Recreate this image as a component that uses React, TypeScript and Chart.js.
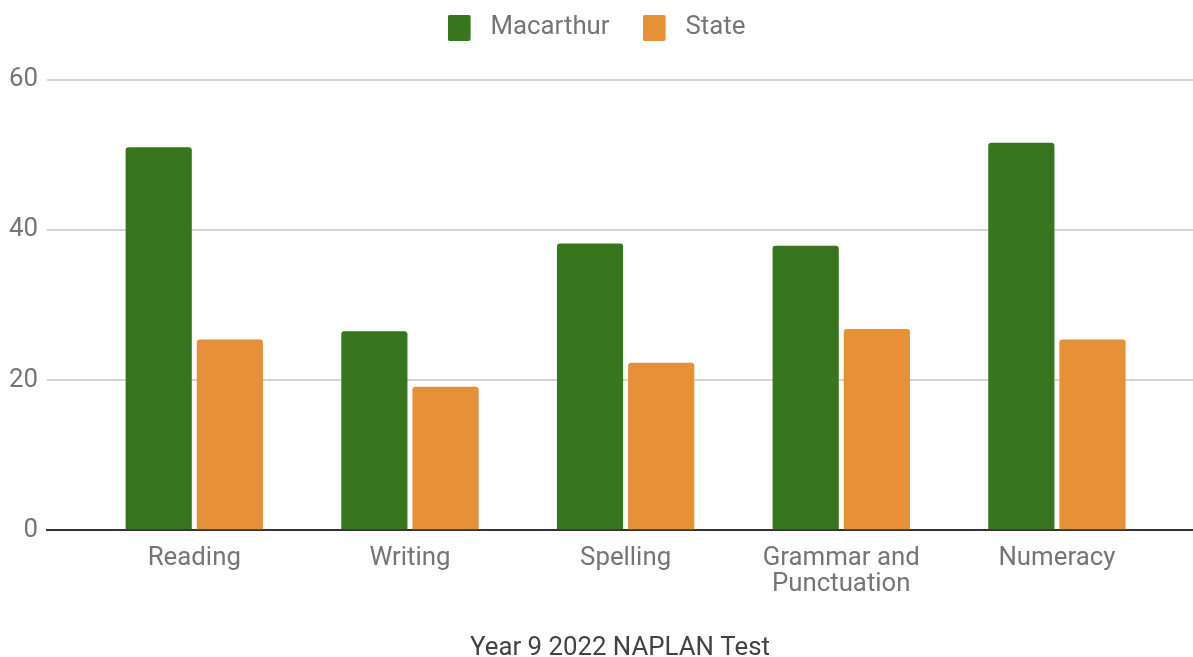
import React, { useEffect, useRef } from "react";
import { Chart, registerables } from "chart.js";

Chart.register(...registerables);

const categories: (string | string[])[] = [
  "Reading",
  "Writing",
  "Spelling",
  ["Grammar and", "Punctuation"],
  "Numeracy",
];
const macarthur = [51.0, 26.5, 38.2, 37.9, 51.6];
const state = [25.4, 19.1, 22.3, 26.8, 25.4];
const yTicks = [0, 20, 40, 60];
const chartTitle = "Year 9 2022 NAPLAN Test";
const seriesNames = ["Macarthur", "State"];
const seriesColors = ["#38761d", "#e69138"];

function makeSwatch(color: string): HTMLCanvasElement {
  const c = document.createElement("canvas");
  c.width = 30;
  c.height = 26;
  const ctx = c.getContext("2d")!;
  ctx.fillStyle = color;
  ctx.beginPath();
  (ctx as any).roundRect(0, 0, 23, 26, 2);
  ctx.fill();
  return c;
}

const legendSpacer = {
  id: "legendSpacer",
  beforeInit(chart: any) {
    const origFit = chart.legend.fit;
    chart.legend.fit = function () {
      origFit.call(this);
      this.height += 29;
    };
  },
};

export default function App() {
  const ref = useRef<HTMLCanvasElement | null>(null);

  useEffect(() => {
    if (!ref.current) return;
    const font = { family: "Roboto", size: 25.8 };
    const swatches = seriesColors.map(makeSwatch);
    const chart = new Chart(ref.current, {
      type: "bar",
      data: {
        datasets: [
          {
            label: seriesNames[0],
            data: macarthur.map((v, i) => ({ x: i, y: v })),
            backgroundColor: seriesColors[0],
            borderRadius: 3,
            barPercentage: 0.93,
            categoryPercentage: 0.66,
          },
          {
            label: seriesNames[1],
            data: state.map((v, i) => ({ x: i, y: v })),
            backgroundColor: seriesColors[1],
            borderRadius: 3,
            barPercentage: 0.93,
            categoryPercentage: 0.66,
          },
        ],
      },
      plugins: [legendSpacer],
      options: {
        animation: false,
        responsive: true,
        maintainAspectRatio: false,
        layout: { padding: { left: 0, right: 0, top: -18, bottom: 0 } },
        plugins: {
          legend: {
            position: "top",
            labels: {
              font,
              color: "#757575",
              usePointStyle: true,
              pointStyleWidth: 30,
              boxHeight: 25,
              padding: 33,
              generateLabels: (ch: any) => {
                const items = Chart.defaults.plugins.legend.labels.generateLabels(ch);
                return items.map((it: any, i: number) => ({ ...it, pointStyle: swatches[i] }));
              },
            },
          },
          tooltip: { enabled: false },
          title: { display: false },
        },
        scales: {
          x: {
            type: "linear",
            min: -0.683,
            max: 4.631,
            offset: false,
            grid: { display: false },
            border: { display: true, color: "#333333", width: 2 },
            ticks: {
              stepSize: 1,
              includeBounds: false,
              autoSkip: false,
              maxRotation: 0,
              padding: 7,
              color: "#757575",
              font: { ...font, lineHeight: 1.0078 },
              callback: (value: any) => {
                const idx = Number(value);
                return Number.isInteger(idx) && categories[idx] !== undefined ? categories[idx] : "";
              },
            },
            title: {
              display: true,
              text: chartTitle,
              color: "#424242",
              font: { ...font, lineHeight: 1 },
              padding: { top: 31, bottom: -4 },
            },
          },
          y: {
            min: yTicks[0],
            max: yTicks[yTicks.length - 1],
            grid: { color: "#d4d4d4", lineWidth: 2, drawTicks: false },
            border: { display: false },
            afterBuildTicks: (scale: any) => {
              scale.ticks = yTicks.map((v) => ({ value: v }));
            },
            ticks: {
              padding: 9,
              color: "#757575",
              font,
            },
          },
        },
      },
    });
    return () => chart.destroy();
  }, []);

  return (
    <div style={{ position: "fixed", left: 0, top: 0, width: 1193, height: 657, background: "#fff" }}>
      <canvas ref={ref} />
    </div>
  );
}
